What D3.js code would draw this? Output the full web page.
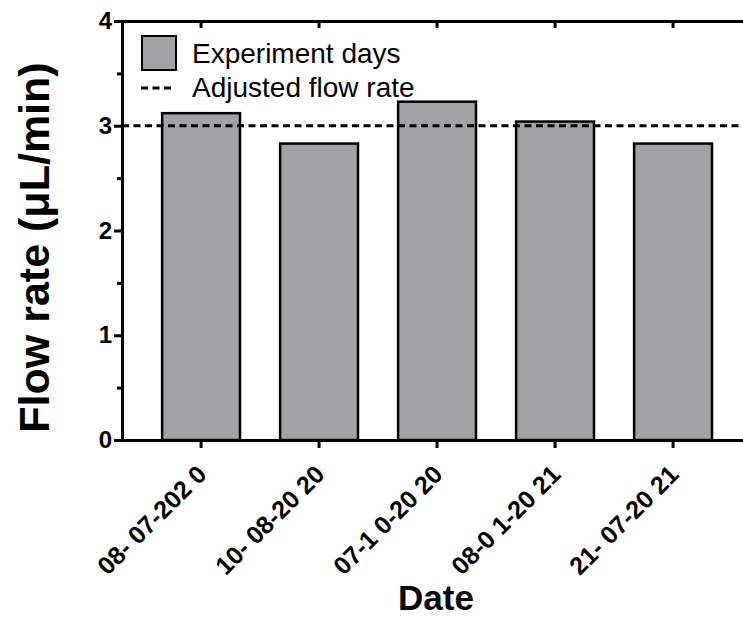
<!DOCTYPE html>
<html>
<head>
<meta charset="utf-8">
<script src="https://cdn.jsdelivr.net/npm/d3@7"></script>
<style>
  body { margin: 0; background: #fff; }
  svg { display: block; font-family: Arial, "Liberation Sans", sans-serif; }
</style>
</head>
<body>
<div id="chart"></div>
<script>
// data
var dates = ['08- 07-202 0', '10- 08-20 20', '07-1 0-20 20', '08-0 1-20 21', '21- 07-20 21'];
var flowRates = [3.12, 2.83, 3.23, 3.04, 2.83];
var adjustedRate = [3.0];
var yTicks = [0, 1, 2, 3, 4];
var yMinorTicks = [0.5, 1.5, 2.5, 3.5];
var legendLabels = ['Experiment days', 'Adjusted flow rate'];

var W = 743, H = 618;
var axisLeftX = 122, axisTopY = 21, axisBottomY = 440;
var barColor = '#a2a1a6';

var svg = d3.select('#chart').append('svg')
  .attr('width', W)
  .attr('height', H);

var x = d3.scaleBand()
  .domain(dates)
  .range([axisLeftX, axisLeftX + 118 * 5.34])
  .paddingInner(0.34)
  .paddingOuter(0.34);

var y = d3.scaleLinear()
  .domain([0, 4])
  .range([axisBottomY, axisTopY]);

// bars
svg.append('g')
  .selectAll('rect')
  .data(flowRates)
  .enter()
  .append('rect')
  .attr('x', function (d, i) { return x(dates[i]); })
  .attr('y', function (d) { return y(d); })
  .attr('width', x.bandwidth())
  .attr('height', function (d) { return y(0) - y(d); })
  .style('fill', barColor)
  .style('stroke', '#000')
  .style('stroke-width', 2.5);

// adjusted flow rate line
svg.append('g')
  .selectAll('line')
  .data(adjustedRate)
  .enter()
  .append('line')
  .attr('x1', axisLeftX)
  .attr('x2', W)
  .attr('y1', function (d) { return y(d); })
  .attr('y2', function (d) { return y(d); })
  .style('stroke', '#000')
  .style('stroke-width', 3)
  .style('stroke-dasharray', '7,4.5');

// y axis
var yAxis = svg.append('g')
  .attr('transform', 'translate(' + axisLeftX + ',0)')
  .call(d3.axisLeft(y).tickValues(yTicks).tickSize(8).tickPadding(2).tickFormat(d3.format('d')));

svg.append('g')
  .attr('transform', 'translate(' + axisLeftX + ',0)')
  .call(d3.axisLeft(y).tickValues(yMinorTicks).tickSize(5).tickFormat(''))
  .select('.domain').remove();

// x axis
var xAxis = svg.append('g')
  .attr('transform', 'translate(0,' + axisBottomY + ')')
  .call(d3.axisBottom(x).tickSize(8).tickSizeOuter(0));

// top frame with inward ticks
svg.append('g')
  .attr('transform', 'translate(0,' + axisTopY + ')')
  .call(d3.axisTop(x).tickSize(-7).tickSizeOuter(0).tickFormat(''));

svg.selectAll('.domain, .tick line')
  .style('stroke', '#000')
  .style('stroke-width', 3);

yAxis.selectAll('.tick text')
  .style('font-size', '24px')
  .style('font-weight', 'bold')
  .style('fill', '#000');

xAxis.selectAll('.tick text')
  .attr('text-anchor', 'end')
  .attr('dy', 0)
  .attr('y', 0)
  .attr('transform', 'translate(7,36) rotate(-45)')
  .style('font-size', '25px')
  .style('font-weight', 'bold')
  .style('fill', '#000');

// axis titles
svg.append('text')
  .attr('transform', 'translate(49,' + (y(2) + 17) + ') rotate(-90)')
  .attr('text-anchor', 'middle')
  .style('font-size', '43px')
  .style('font-weight', 'bold')
  .text('Flow rate (μL/min)');

svg.append('text')
  .attr('x', 436)
  .attr('y', 610)
  .attr('text-anchor', 'middle')
  .style('font-size', '35px')
  .style('font-weight', 'bold')
  .text('Date');

// legend
var legend = svg.append('g');
legend.append('rect')
  .attr('x', 142)
  .attr('y', 36)
  .attr('width', 34)
  .attr('height', 34)
  .style('fill', barColor)
  .style('stroke', '#000')
  .style('stroke-width', 2);

legend.append('line')
  .attr('x1', 141)
  .attr('x2', 174)
  .attr('y1', 88)
  .attr('y2', 88)
  .style('stroke', '#000')
  .style('stroke-width', 3)
  .style('stroke-dasharray', '7,4.5');

legend.selectAll('text')
  .data(legendLabels)
  .enter()
  .append('text')
  .attr('x', 192)
  .attr('y', function (d, i) { return 63 + i * 34; })
  .style('font-size', '28px')
  .text(function (d) { return d; });
</script>
</body>
</html>
